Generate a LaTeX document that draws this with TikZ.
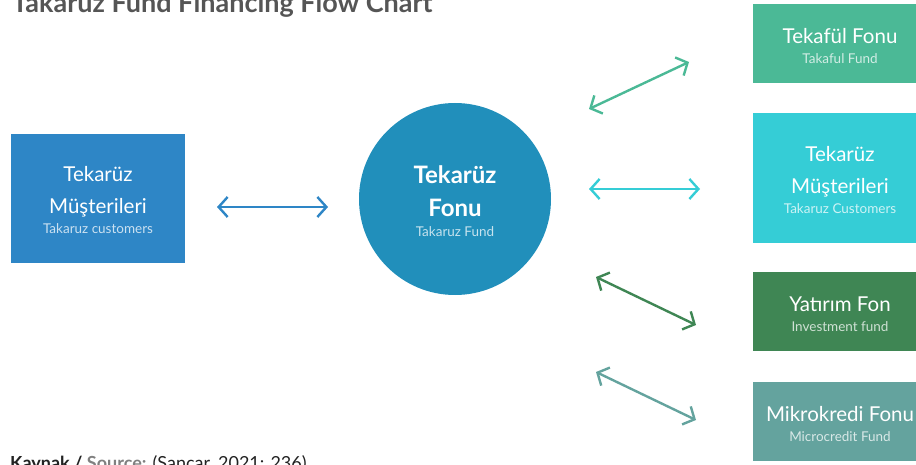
\documentclass[tikz,border=0pt]{standalone}
\usepackage{fontspec}
\setmainfont{Lato}
\usetikzlibrary{arrows.meta}
\definecolor{cBlue}{HTML}{2E86C6}
\definecolor{cCirc}{HTML}{218FBB}
\definecolor{cTeka}{HTML}{4BB996}
\definecolor{cCyan}{HTML}{35CDD6}
\definecolor{cDkGr}{HTML}{3F8654}
\definecolor{cTeal}{HTML}{64A39E}
\definecolor{cTitle}{HTML}{555555}
\definecolor{cSrc}{HTML}{222222}
\tikzset{
  box/.style={rectangle, minimum width=174pt, inner sep=0pt, text=white, align=center},
  btxt/.style={text=white, align=center, inner sep=0pt, font=\fontsize{20.5}{32}\selectfont},
  arr/.style={line width=2.4pt, {Straight Barb[length=9pt,width=20pt]}-{Straight Barb[length=9pt,width=20pt]}},
}
\newcommand{\subtxt}[2]{{\mdseries\fontsize{13.5}{14}\selectfont\color{white!75!#1}#2}}
\begin{document}
\begin{tikzpicture}[x=1pt,y=-1pt]
\useasboundingbox (0,0) rectangle (916,465);
% title and source
\node[anchor=base west, inner sep=0pt, text=cTitle, font=\bfseries\fontsize{27}{30}\selectfont] (title) at (12,13) {Takaruz Fund Financing Flow Chart};
\node[anchor=base west, inner sep=0pt, text=cSrc, font=\fontsize{18}{20}\selectfont] (src) at (10,469) {\textbf{Kaynak / }\textcolor{gray}{\textbf{Source:}} (Sancar, 2021: 236)};
% left box
\node[box, fill=cBlue, minimum height=129pt] (left) at (98,198.5) {};
\node[btxt] (leftT) at (98,200) {Tekarüz\\Müşterileri\\[-12pt]\subtxt{cBlue}{Takaruz customers}};
% circle
\node[circle, fill=cCirc, minimum size=192pt, inner sep=0pt] (circ) at (455,199) {};
\node[btxt, font=\bfseries\fontsize{24}{33}\selectfont] (circT) at (455,201) {Tekarüz\\Fonu\\[-13pt]\subtxt{cCirc}{Takaruz Fund}};
% right boxes
\node[box, fill=cTeka, minimum height=79pt] (b1) at (840,43.5) {};
\node[btxt] (b1T) at (840,46) {Tekafül Fonu\\[-12pt]\subtxt{cTeka}{Takaful Fund}};
\node[box, fill=cCyan, minimum height=130pt] (b2) at (840,178) {};
\node[btxt] (b2T) at (840,180) {Tekarüz\\Müşterileri\\[-12pt]\subtxt{cCyan}{Takaruz Customers}};
\node[box, fill=cDkGr, minimum height=79pt] (b3) at (840,311.5) {};
\node[btxt] (b3T) at (840,314) {Yatırım Fon\\[-12pt]\subtxt{cDkGr}{Investment fund}};
\node[box, fill=cTeal, minimum height=79pt] (b4) at (840,421.5) {};
\node[btxt] (b4T) at (840,424) {Mikrokredi Fonu\\[-12pt]\subtxt{cTeal}{Microcredit Fund}};
% arrow end points
\coordinate (l1) at (217,207); \coordinate (l2) at (328,207);
\coordinate (a1) at (589,109); \coordinate (a2) at (689,62);
\coordinate (c1) at (589,189); \coordinate (c2) at (700,189);
\coordinate (d1) at (596,277); \coordinate (d2) at (696,325);
\coordinate (e1) at (596,372); \coordinate (e2) at (696,420);
\draw[arr, cBlue] (l1) -- (l2);
\draw[arr, cTeka] (a1) -- (a2);
\draw[arr, cCyan] (c1) -- (c2);
\draw[arr, cDkGr] (d1) -- (d2);
\draw[arr, cTeal] (e1) -- (e2);
\end{tikzpicture}
\end{document}
